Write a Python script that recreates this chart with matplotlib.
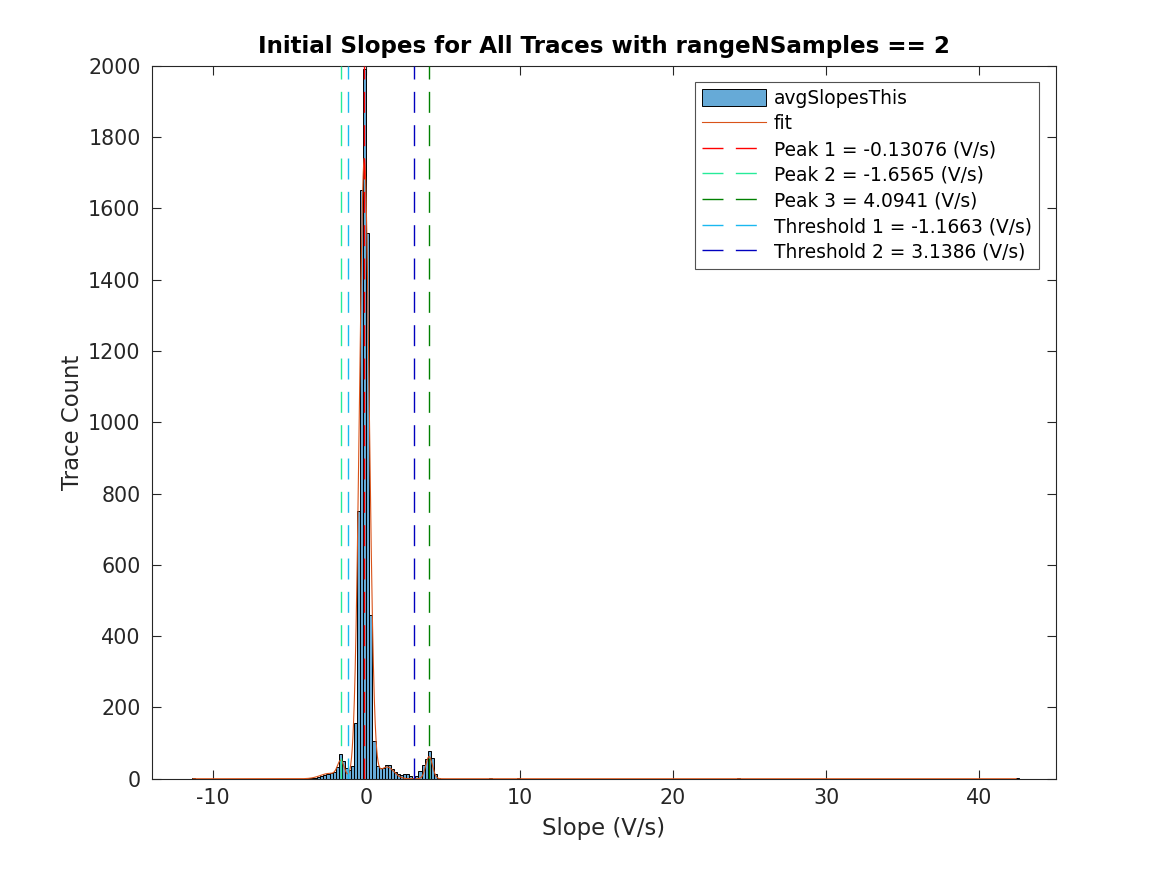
import numpy as np
import matplotlib
matplotlib.use('Agg')
import matplotlib.pyplot as plt

# ---------------- data ----------------
bin_width = 0.2
bin_start = -4.0
# histogram counts for consecutive bins starting at bin_start
counts = [1, 1, 2, 3, 5, 7, 10, 13, 16, 20,
          33, 69, 50, 30, 25, 37, 155, 750, 1650, 1990,
          1530, 460, 105, 35, 29, 31, 38, 38, 28, 20,
          12, 11, 14, 13, 9, 3, 7, 22, 38, 56,
          79, 57, 12, 3]
# sparse outlier bins (left edges) and their counts
outlier_edges = [-11.4, 8.0, 9.8, 24.2, 42.4]
outlier_counts = [1, 1, 1, 1, 1]

# fitted mixture (component means, amplitudes in counts, widths)
fit_means = [-0.13076, -1.6565, 4.0941, 1.35, -2.4]
fit_amps = [1740, 45, 62, 33, 15]
fit_sigmas = [0.32, 0.22, 0.22, 0.45, 0.6]
fit_range = [-11.3, 42.4]

peak_values = [-0.13076, -1.6565, 4.0941]
threshold_values = [-1.1663, 3.1386]

title = 'Initial Slopes for All Traces with rangeNSamples == 2'
xlabel = 'Slope (V/s)'
ylabel = 'Trace Count'
hist_label = 'avgSlopesThis'
xlim = [-14, 45]
ylim = [0, 2000]
xticks = [-10, 0, 10, 20, 30, 40]
yticks = list(range(0, 2001, 200))

# ---------------- style ----------------
plt.rcParams['font.family'] = ['DejaVu Sans']
plt.rcParams['lines.scale_dashes'] = False
plt.rcParams['axes.unicode_minus'] = False
axcol = (0.15, 0.15, 0.15)
face = (0.4, 0.668, 0.845)
fitcol = (0.85, 0.325, 0.098)
peak_colors = [(1, 0, 0), (0.15, 0.92, 0.6), (0.0, 0.5, 0.0)]
thr_colors = [(0.1, 0.72, 0.94), (0.0, 0.0, 0.75)]
dash = (0, (15.1, 8.9))

fig = plt.figure(figsize=(11.67, 8.75), dpi=100)
ax = fig.add_axes([0.13, 0.11, 0.775, 0.815])

lefts = [bin_start + i * bin_width for i in range(len(counts))] + outlier_edges
heights = list(counts) + list(outlier_counts)
hb = ax.bar(lefts, heights, width=bin_width, align='edge', color=face,
            edgecolor='black', linewidth=0.7, label=hist_label, zorder=2)

xf = np.linspace(fit_range[0], fit_range[1], 6000)
yf = np.zeros_like(xf)
for m, a, s in zip(fit_means, fit_amps, fit_sigmas):
    yf += a * np.exp(-0.5 * ((xf - m) / s) ** 2)
ax.plot(xf, yf, color=fitcol, lw=0.8, label='fit', zorder=3)

for i, (v, c) in enumerate(zip(peak_values, peak_colors)):
    ax.plot([v, v], ylim, color=c, lw=1.0, linestyle=dash,
            label=f'Peak {i+1} = {v:.5g} (V/s)', zorder=4)
for i, (v, c) in enumerate(zip(threshold_values, thr_colors)):
    ax.plot([v, v], ylim, color=c, lw=1.0, linestyle=dash,
            label=f'Threshold {i+1} = {v:.5g} (V/s)', zorder=4)

ax.set_xlim(xlim)
ax.set_ylim(ylim)
ax.set_xticks(xticks)
ax.set_yticks(yticks)
for sp in ax.spines.values():
    sp.set_color(axcol)
    sp.set_linewidth(0.8)
ax.tick_params(direction='in', length=6.5, width=0.8, colors=axcol,
               labelsize=14.9, top=True, right=True)
ax.tick_params(axis='x', pad=7)
ax.tick_params(axis='y', pad=8)

ax.set_title(title, fontsize=16.6, fontweight='bold', color='black', pad=9)
ax.set_xlabel(xlabel, fontsize=16.4, color=axcol, labelpad=6)
ax.set_ylabel(ylabel, fontsize=16.4, color=axcol, labelpad=3)

handles, labels = ax.get_legend_handles_labels()
hist_idx = labels.index(hist_label)
order = [hist_idx] + [i for i in range(len(labels)) if i != hist_idx]
leg = ax.legend([handles[i] for i in order], [labels[i] for i in order],
                loc='upper right', bbox_to_anchor=(1 - 17 / 904, 1 - 16 / 714),
                borderaxespad=0, fontsize=13.4, frameon=True, fancybox=False,
                handlelength=3.4, handletextpad=0.45, handleheight=1.05,
                labelspacing=0.36, borderpad=0.38)
leg.get_frame().set_edgecolor(axcol)
leg.get_frame().set_linewidth(0.8)
for t in leg.get_texts():
    t.set_color('black')

fig.savefig('out.png', dpi=100, facecolor='white')
